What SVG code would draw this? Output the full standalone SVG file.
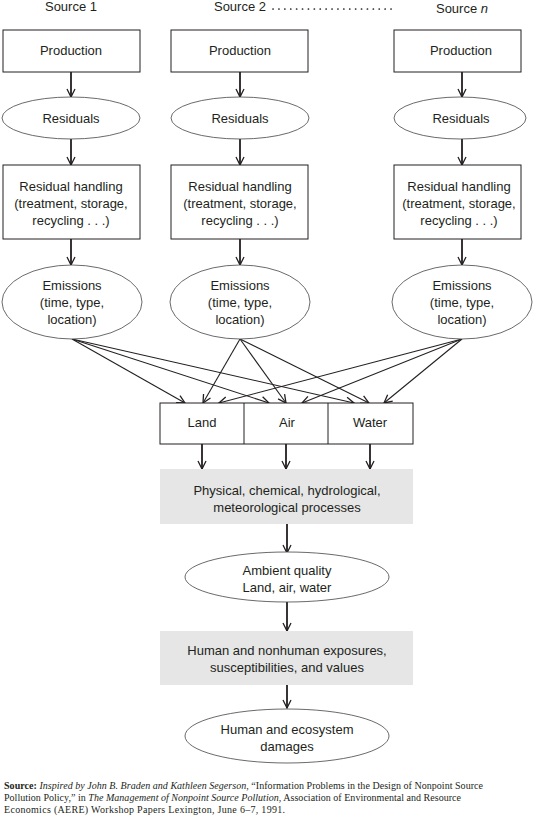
<svg xmlns="http://www.w3.org/2000/svg" width="534" height="816" viewBox="0 0 534 816">
<defs>
<marker id="ah" viewBox="0 0 10 10" refX="9" refY="5" markerWidth="10" markerHeight="10" markerUnits="userSpaceOnUse" orient="auto">
<path d="M1,1 L9,5 L1,9" fill="none" stroke="#231f20" stroke-width="1.3"/>
</marker>
</defs>
<style>
text{font-family:"Liberation Sans",Arial,sans-serif;font-size:13px;fill:#231f20;text-anchor:middle}
.box{fill:#fff;stroke:#231f20;stroke-width:1}
.ell{fill:#fff;stroke:#444;stroke-width:0.8}
.gray{fill:#e6e6e6;stroke:none}
.v{stroke:#231f20;stroke-width:1.8;fill:none;marker-end:url(#ah)}
.x{stroke:#231f20;stroke-width:1.1;fill:none;marker-end:url(#ah)}
.src{font-family:"Liberation Serif","Times New Roman",serif;font-size:10px;text-anchor:start}
</style>
<rect width="534" height="816" fill="#fff"/>

<g id="headers">
<text x="71" y="11">Source 1</text>
<text x="240" y="11">Source 2</text>
<line x1="273" y1="9" x2="395" y2="9" stroke="#231f20" stroke-width="1.7" stroke-linecap="round" stroke-dasharray="0.1 5.8"/>
<text x="462" y="13">Source <tspan font-style="italic">n</tspan></text>
</g>

<g id="connectors">
<line class="v" x1="71" y1="72" x2="71" y2="97"/>
<line class="v" x1="240" y1="72" x2="240" y2="97"/>
<line class="v" x1="462" y1="72" x2="462" y2="97"/>
<line class="v" x1="71" y1="139" x2="71" y2="165"/>
<line class="v" x1="240" y1="139" x2="240" y2="165"/>
<line class="v" x1="462" y1="139" x2="462" y2="165"/>
<line class="v" x1="71" y1="239" x2="71" y2="265"/>
<line class="v" x1="240" y1="239" x2="240" y2="265"/>
<line class="v" x1="462" y1="239" x2="462" y2="265"/>
<line class="x" x1="72" y1="339" x2="185" y2="403"/>
<line class="x" x1="72" y1="339" x2="269" y2="403"/>
<line class="x" x1="72" y1="339" x2="354" y2="403"/>
<line class="x" x1="240" y1="339" x2="203" y2="403"/>
<line class="x" x1="240" y1="339" x2="286" y2="403"/>
<line class="x" x1="240" y1="339" x2="369" y2="403"/>
<line class="x" x1="462" y1="339" x2="219" y2="403"/>
<line class="x" x1="462" y1="339" x2="302" y2="403"/>
<line class="x" x1="462" y1="339" x2="384" y2="403"/>
<line class="v" x1="202" y1="444" x2="202" y2="469"/>
<line class="v" x1="286" y1="444" x2="286" y2="469"/>
<line class="v" x1="370" y1="444" x2="370" y2="469"/>
<line class="v" x1="287" y1="524" x2="287" y2="553"/>
<line class="v" x1="287" y1="602" x2="287" y2="631"/>
<line class="v" x1="287" y1="685" x2="287" y2="708"/>
</g>

<g id="production1"><rect class="box" x="3" y="30" width="137" height="42"/><text x="71" y="55">Production</text></g>
<g id="production2"><rect class="box" x="171" y="30" width="137" height="42"/><text x="240" y="55">Production</text></g>
<g id="productionN"><rect class="box" x="394" y="30" width="127" height="42"/><text x="461" y="55">Production</text></g>

<g id="residuals1"><ellipse class="ell" cx="71" cy="118" rx="69" ry="21"/><text x="71" y="123">Residuals</text></g>
<g id="residuals2"><ellipse class="ell" cx="240" cy="118" rx="69" ry="21"/><text x="240" y="123">Residuals</text></g>
<g id="residualsN"><ellipse class="ell" cx="460" cy="118" rx="66" ry="21"/><text x="461" y="123">Residuals</text></g>

<g id="handling1"><rect class="box" x="3" y="165" width="137" height="74"/>
<text x="71" y="191">Residual handling</text><text x="71" y="208">(treatment, storage,</text><text x="71" y="225">recycling . . .)</text></g>
<g id="handling2"><rect class="box" x="171" y="165" width="137" height="74"/>
<text x="240" y="191">Residual handling</text><text x="240" y="208">(treatment, storage,</text><text x="240" y="225">recycling . . .)</text></g>
<g id="handlingN"><rect class="box" x="394" y="165" width="127" height="74"/>
<text x="459" y="191">Residual handling</text><text x="459" y="208">(treatment, storage,</text><text x="459" y="225">recycling . . .)</text></g>

<g id="emissions1"><ellipse class="ell" cx="72" cy="302" rx="70" ry="37"/>
<text x="72" y="290">Emissions</text><text x="72" y="307">(time, type,</text><text x="72" y="324">location)</text></g>
<g id="emissions2"><ellipse class="ell" cx="240" cy="302" rx="70" ry="37"/>
<text x="240" y="290">Emissions</text><text x="240" y="307">(time, type,</text><text x="240" y="324">location)</text></g>
<g id="emissionsN"><ellipse class="ell" cx="462" cy="302" rx="70" ry="37"/>
<text x="462" y="290">Emissions</text><text x="462" y="307">(time, type,</text><text x="462" y="324">location)</text></g>

<g id="media">
<rect class="box" x="160" y="403" width="253" height="41"/>
<line x1="244" y1="403" x2="244" y2="444" stroke="#231f20" stroke-width="1"/>
<line x1="328" y1="403" x2="328" y2="444" stroke="#231f20" stroke-width="1"/>
<text x="202" y="427">Land</text>
<text x="287" y="427">Air</text>
<text x="370" y="427">Water</text>
</g>

<g id="processes"><rect class="gray" x="160" y="469" width="253" height="55"/>
<text x="287" y="495">Physical, chemical, hydrological,</text><text x="287" y="512">meteorological processes</text></g>

<g id="ambient"><ellipse class="ell" cx="287" cy="577" rx="102" ry="25"/>
<text x="287" y="575">Ambient quality</text><text x="287" y="592">Land, air, water</text></g>

<g id="exposures"><rect class="gray" x="160" y="631" width="253" height="54"/>
<text x="287" y="655">Human and nonhuman exposures,</text><text x="287" y="672">susceptibilities, and values</text></g>

<g id="damages"><ellipse class="ell" cx="287" cy="736" rx="102" ry="27"/>
<text x="287" y="734">Human and ecosystem</text><text x="287" y="751">damages</text></g>

<g id="source-note">
<text class="src" x="4" y="789" textLength="479" lengthAdjust="spacing"><tspan font-weight="bold">Source:</tspan> <tspan font-style="italic">Inspired by John B. Braden and Kathleen Segerson,</tspan> “Information Problems in the Design of Nonpoint Source</text>
<text class="src" x="4" y="801" textLength="457" lengthAdjust="spacing">Pollution Policy,” in <tspan font-style="italic">The Management of Nonpoint Source Pollution</tspan>, Association of Environmental and Resource</text>
<text class="src" x="4" y="813" textLength="281" lengthAdjust="spacing">Economics (AERE) Workshop Papers Lexington, June 6–7, 1991.</text>
</g>
</svg>
